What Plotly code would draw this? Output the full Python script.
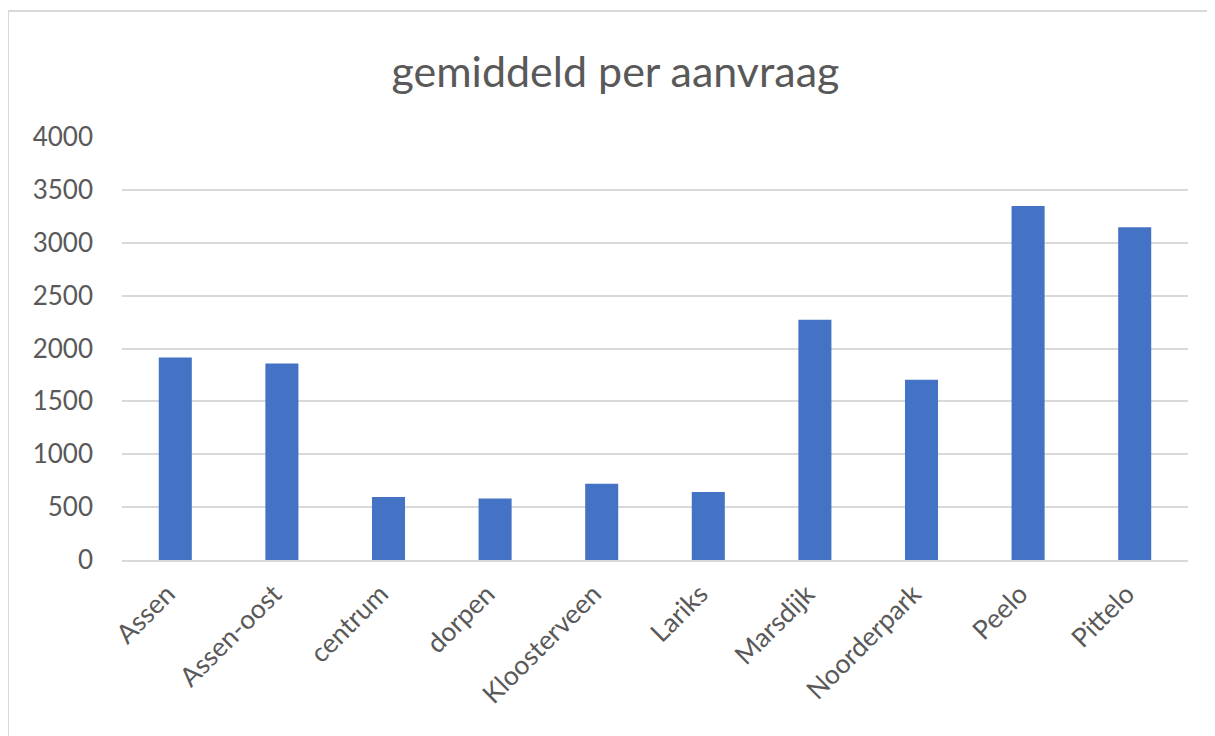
import plotly.graph_objects as go

categories = ["Assen", "Assen-oost", "centrum", "dorpen", "Kloosterveen",
              "Lariks", "Marsdijk", "Noorderpark", "Peelo", "Pittelo"]
values = [1915, 1858, 595, 582, 720, 642, 2271, 1704, 3348, 3147]
y_ticks = [0, 500, 1000, 1500, 2000, 2500, 3000, 3500, 4000]

# page is shown with an 8px body offset; compensate
OFF = 8
W, H = 1215, 736
L, R, T, B = 122 - OFF, 27 + OFF, 137 - OFF, 176 + OFF
pw, ph = W - L - R, H - T - B

fig = go.Figure(go.Bar(x=categories, y=values, marker_color="#4472C4",
                       marker_line_width=0))

def px_x(x):
    return (x - OFF - L) / pw

def px_y(y):
    return (H - B - (y - OFF)) / ph

fig.update_layout(
    width=W, height=H,
    margin=dict(l=L, r=R, t=T, b=B),
    paper_bgcolor="white", plot_bgcolor="white",
    bargap=0.69,
    font=dict(family="Lato, Open Sans, sans-serif", color="#595959"),
    title=dict(text="gemiddeld per aanvraag", x=0.5, xanchor="center",
               y=1 - (72 - OFF) / H, yanchor="middle", yref="container",
               font=dict(size=43, color="#595959")),
    showlegend=False,
    shapes=[dict(type="rect", xref="paper", yref="paper",
                 x0=px_x(8), x1=px_x(1240), y0=px_y(760), y1=px_y(11),
                 line=dict(color="#d9d9d9", width=2), layer="below")],
)
fig.update_xaxes(tickangle=-45, tickfont=dict(size=26.5, color="#595959"),
                 showgrid=False, showline=True, linecolor="#d9d9d9", linewidth=2,
                 ticks="", ticklabelshift=-8, ticklabelstandoff=6)
fig.update_yaxes(range=[0, 4000], tickvals=y_ticks,
                 tickfont=dict(size=26, color="#595959"),
                 showgrid=True, gridcolor="#d9d9d9", gridwidth=2,
                 zeroline=False, showline=False, ticks="",
                 ticklabelstandoff=28)

fig.write_html("out.html")
